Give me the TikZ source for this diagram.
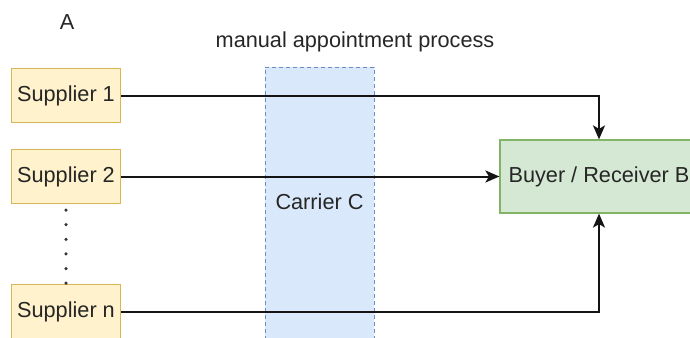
\documentclass[tikz,border=0pt]{standalone}
\usepackage{fontspec}
\setmainfont{Liberation Sans}
\usetikzlibrary{arrows.meta}
\definecolor{supfill}{HTML}{FFF2CC}
\definecolor{supdraw}{HTML}{D6B656}
\definecolor{buyfill}{HTML}{D5E8D4}
\definecolor{buydraw}{HTML}{82B366}
\definecolor{carfill}{HTML}{DAE8FC}
\definecolor{cardraw}{HTML}{6C8EBF}
\definecolor{txt}{HTML}{262626}
\tikzset{
  base/.style={font=\fontsize{21.7}{25}\selectfont, text=txt},
  supbox/.style={base, draw=supdraw, fill=supfill, line width=1.2pt, minimum width=109pt, minimum height=54pt, inner sep=0pt},
  buybox/.style={base, draw=buydraw, fill=buyfill, line width=1.2pt, minimum width=198pt, minimum height=73pt, inner sep=0pt},
  carbox/.style={draw=cardraw, fill=carfill, line width=1pt, dash pattern=on 4pt off 3pt, minimum width=109pt, minimum height=290pt, inner sep=0pt},
  plain/.style={base, inner sep=0pt},
  conn/.style={line width=2pt, black!92, -{Stealth[length=14pt,width=12pt,inset=3.5pt]}},
  dots/.style={line width=3.5pt, black!80, line cap=round, dash pattern=on 0pt off 14.6pt}
}
\begin{document}
\begin{tikzpicture}[x=1pt,y=-1pt]
\useasboundingbox (0,0) rectangle (690,337);
\clip (0,0) rectangle (690,337);
\fill[white] (0,0) rectangle (690,337);
\node[plain] (lblA) at (67,22) {A};
\node[plain] (title) at (355,42) {manual appointment process};
\node[carbox] (carrier) at (319.5,212) {};
\node[plain] (carriertext) at (319.5,202) {Carrier C};
\node[supbox] (s1) at (66,95.5) {Supplier 1};
\node[supbox] (s2) at (66,176.5) {Supplier 2};
\node[supbox] (sn) at (66,311.5) {Supplier n};
\node[buybox] (buyer) at (599,176.5) {Buyer / Receiver B};
\draw[dots] (s2.south) ++(0,6) coordinate (d0) (d0) -- (sn.north);
\draw[conn] (s1.east) -| (buyer.north);
\draw[conn] (s2.east) -- (buyer.west);
\draw[conn] (sn.east) -| (buyer.south);
\end{tikzpicture}
\end{document}
